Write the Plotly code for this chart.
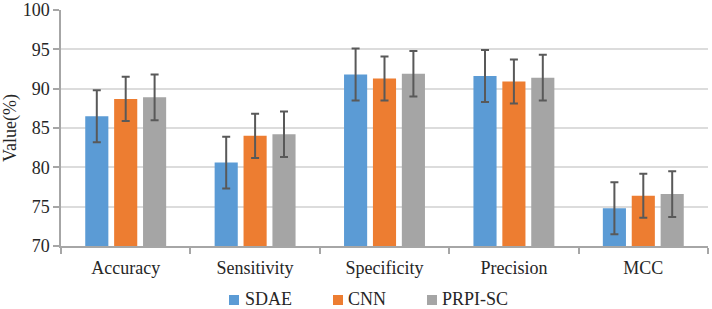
import plotly.graph_objects as go

categories = ["Accuracy", "Sensitivity", "Specificity", "Precision", "MCC"]
series_names = ["SDAE", "CNN", "PRPI-SC"]
sdae = [86.5, 80.6, 91.8, 91.6, 74.8]
cnn = [88.7, 84.0, 91.3, 90.9, 76.4]
prpi = [88.9, 84.2, 91.9, 91.4, 76.6]
sdae_err = [3.3, 3.3, 3.3, 3.3, 3.3]
cnn_err = [2.8, 2.8, 2.8, 2.8, 2.8]
prpi_err = [2.9, 2.9, 2.9, 2.9, 2.9]
colors = ["#5B9BD5", "#ED7D31", "#A5A5A5"]
y_ticks = [70, 75, 80, 85, 90, 95, 100]

font_family = "Liberation Serif"
txt_color = "#262626"
axis_color = "#A6A6A6"

W, H = 712, 309
ML, MR, MT, MB = 61, 4, 10, 63
PW, PH = W - ML - MR, H - MT - MB

def px_x(px):
    return (px - ML) / PW

def px_y(py):
    return (H - MB - py) / PH

fig = go.Figure()
for name, vals, errs, col in zip(series_names, [sdae, cnn, prpi], [sdae_err, cnn_err, prpi_err], colors):
    fig.add_trace(go.Bar(
        x=categories, y=vals, name=name,
        marker=dict(color=col, line=dict(width=0)),
        error_y=dict(type="data", array=errs, visible=True, color="#595959", thickness=2, width=4),
        showlegend=False,
    ))

# custom legend (layout positions only)
legend_square_left = [229, 333, 427]
legend_text_left = [243, 346, 440]
for name, col, sx, tx in zip(series_names, colors, legend_square_left, legend_text_left):
    fig.add_shape(type="rect", xref="paper", yref="paper",
                  x0=px_x(sx), x1=px_x(sx + 10), y0=px_y(305), y1=px_y(295),
                  fillcolor=col, line=dict(width=0))
    fig.add_annotation(text=name, xref="paper", yref="paper", x=px_x(tx), y=px_y(298.5),
                       xanchor="left", yanchor="middle", showarrow=False,
                       font=dict(family=font_family, size=18, color=txt_color))

fig.update_layout(
    width=W, height=H,
    margin=dict(l=ML, r=MR, t=MT, b=MB, autoexpand=False),
    barmode="group", bargap=0.33, bargroupgap=0.2,
    plot_bgcolor="white", paper_bgcolor="white",
    font=dict(family=font_family, size=18, color=txt_color),
    showlegend=False,
    xaxis=dict(showline=True, linecolor=axis_color, linewidth=1.5, ticks="outside", tickson="boundaries",
               ticklen=6, tickcolor=axis_color, tickwidth=1.5, showgrid=False, ticklabelstandoff=5,
               tickfont=dict(family=font_family, size=18, color=txt_color)),
    yaxis=dict(range=[70, 100], tickvals=y_ticks, showline=True, linecolor=axis_color, linewidth=1.5,
               ticks="outside", ticklen=6, tickcolor=axis_color, tickwidth=1.5,
               showgrid=True, gridcolor="#DCDCDC", gridwidth=2, zeroline=False,
               title=dict(text="Value(%)", font=dict(family=font_family, size=18, color=txt_color), standoff=3),
               tickfont=dict(family=font_family, size=18, color=txt_color)),
)

fig.write_html("out.html", config={"displayModeBar": False},
               post_script="document.body.style.margin='0';document.body.style.overflow='hidden';")
